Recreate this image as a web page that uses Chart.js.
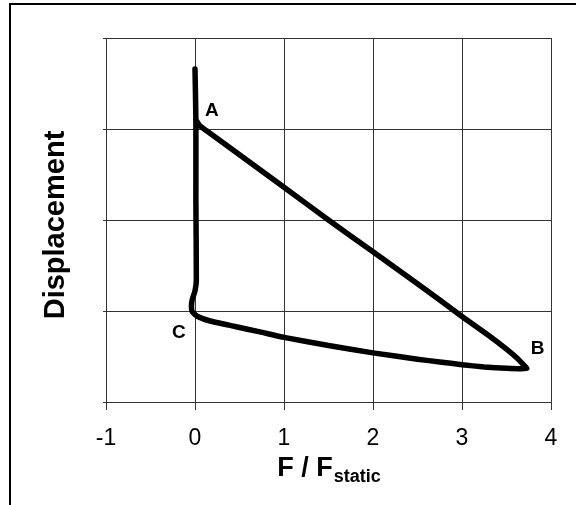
<!DOCTYPE html>
<html>
<head>
<meta charset="utf-8">
<script src="https://cdn.jsdelivr.net/npm/chart.js@4.4.1/dist/chart.umd.min.js"></script>
<style>
  html, body { margin: 0; padding: 0; background: #fff; overflow: hidden; }
  #wrap { position: relative; width: 576px; height: 505px; }
  #frame { position: absolute; left: 9px; top: 3px; width: 700px; height: 700px;
           border-top: 2px solid #000; border-left: 2px solid #000; }
  canvas { position: absolute; left: 0; top: 0; }
</style>
</head>
<body>
<div id="wrap">
  <div id="frame"></div>
  <canvas id="loop" width="576" height="505"></canvas>
</div>
<script>
/* data: A -> B -> C -> back up past A */
const forceRatio = [0.01, 0.05, 0.13, 0.30, 0.60, 1.00, 1.50, 2.00, 2.50, 3.00, 3.30, 3.50, 3.62, 3.69, 3.73,
                    3.66, 3.50, 3.25, 3.00, 2.75, 2.50, 2.00, 1.50, 1.00, 0.73, 0.45, 0.17, 0.03, -0.03, -0.04, -0.03, 0.00, 0.015, 0.01, 0.01, 0.00];
const displacement = [3.10, 3.04, 2.98, 2.86, 2.645, 2.36, 2.00, 1.65, 1.30, 0.94, 0.73, 0.58, 0.48, 0.41, 0.37,
                      0.365, 0.37, 0.385, 0.41, 0.44, 0.47, 0.54, 0.62, 0.71, 0.77, 0.83, 0.89, 0.94, 0.99, 1.05, 1.13, 1.22, 1.34, 2.20, 3.10, 3.66];

const pointNames = ['A', 'B', 'C'];
const pointForce = [0.19, 3.85, -0.18];
const pointDisp = [3.20, 0.58, 0.76];

const xMin = -1, xMax = 4;
const yMin = 0, yMax = 4;

const pts = forceRatio.map((f, i) => ({ x: f, y: displacement[i] }));
const gridColor = '#333';

/* labels A, B, C and both axis titles */
const textPlugin = {
  id: 'texts',
  afterDraw(chart) {
    const ctx = chart.ctx;
    const xs = chart.scales.x, ys = chart.scales.y;
    ctx.save();
    ctx.fillStyle = '#000';
    ctx.textAlign = 'center';
    ctx.textBaseline = 'middle';
    ctx.font = 'bold 19px "Liberation Sans", Arial, sans-serif';
    pointNames.forEach((n, i) => {
      ctx.fillText(n, xs.getPixelForValue(pointForce[i]), ys.getPixelForValue(pointDisp[i]));
    });

    // x title with subscript
    const cx = (chart.chartArea.left + chart.chartArea.right) / 2;
    const big = 'bold 27px "Liberation Sans", Arial, sans-serif';
    const small = 'bold 18px "Liberation Sans", Arial, sans-serif';
    ctx.textAlign = 'left';
    ctx.textBaseline = 'alphabetic';
    ctx.font = big;
    const w1 = ctx.measureText('F / F').width;
    ctx.font = small;
    const w2 = ctx.measureText('static').width;
    const x0 = cx - (w1 + w2) / 2;
    ctx.font = big;
    ctx.fillText('F / F', x0, 476);
    ctx.font = small;
    ctx.fillText('static', x0 + w1 + 1, 482);

    // y title
    ctx.translate(56, (chart.chartArea.top + chart.chartArea.bottom) / 2 + 5);
    ctx.rotate(-Math.PI / 2);
    ctx.textAlign = 'center';
    ctx.textBaseline = 'middle';
    ctx.font = 'bold 29px "Liberation Sans", Arial, sans-serif';
    ctx.fillText('Displacement', 0, 0);
    ctx.restore();
  }
};

new Chart(document.getElementById('loop').getContext('2d'), {
  type: 'scatter',
  data: {
    datasets: [{
      data: pts,
      showLine: true,
      borderColor: '#000',
      borderWidth: 5.5,
      borderJoinStyle: 'round',
      borderCapStyle: 'round',
      pointRadius: 0,
      tension: 0.15
    }]
  },
  options: {
    responsive: false,
    devicePixelRatio: 1,
    animation: false,
    layout: { padding: { left: 0, top: 38, right: 25, bottom: 0 } },
    plugins: { legend: { display: false }, tooltip: { enabled: false } },
    scales: {
      x: {
        type: 'linear', min: xMin, max: xMax,
        ticks: { stepSize: 1, color: '#000', padding: 15,
                 font: { family: '"Liberation Sans", Arial, sans-serif', size: 23 } },
        grid: { color: gridColor, tickLength: 8 },
        border: { color: gridColor },
        afterFit(s) { s.height = 103; }
      },
      y: {
        type: 'linear', min: yMin, max: yMax,
        ticks: { stepSize: 1, display: false },
        grid: { color: gridColor, tickLength: 3 },
        border: { color: gridColor },
        afterFit(s) { s.width = 106; }
      }
    }
  },
  plugins: [textPlugin]
});
</script>
</body>
</html>
